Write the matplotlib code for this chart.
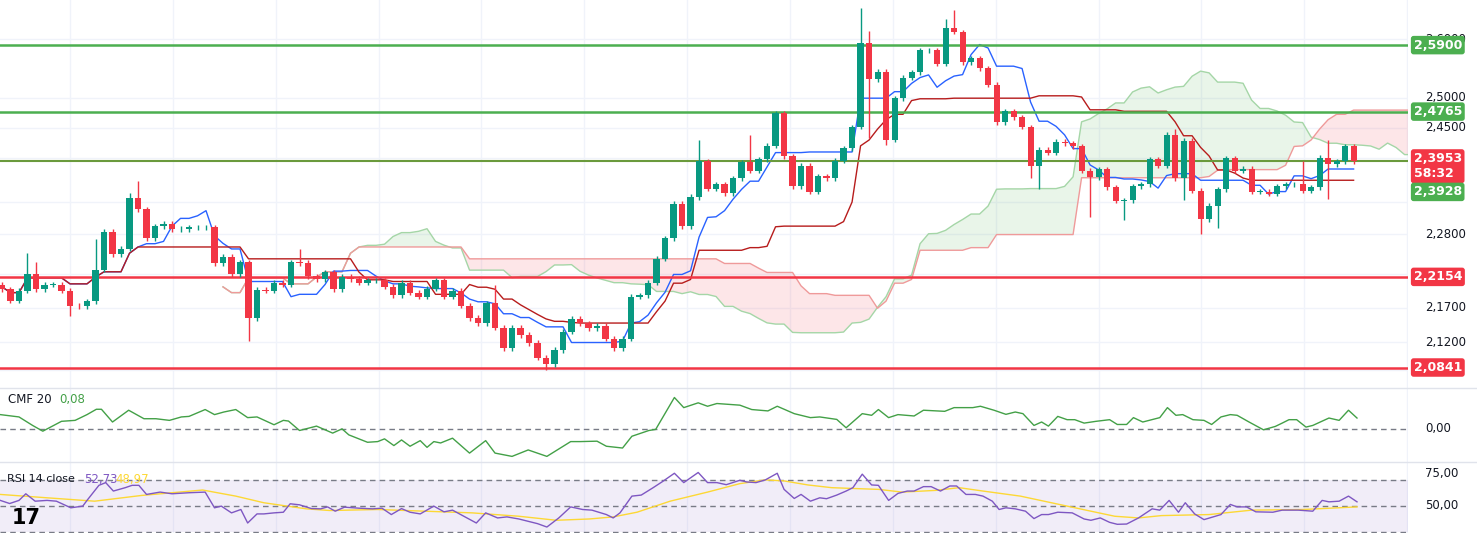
import numpy as np
import pandas as pd
import matplotlib
matplotlib.use("Agg")
import matplotlib.pyplot as plt
from matplotlib.transforms import blended_transform_factory

# --- data (prices, bar index = time) ---
first_open = 2.204
closes = [
    2.197, 2.180, 2.195, 2.219, 2.197, 2.204, 2.204, 2.195, 2.173, 2.172,
    2.179, 2.226, 2.284, 2.250, 2.258, 2.336, 2.319, 2.274, 2.292, 2.296,
    2.288, 2.288, 2.291, 2.291, 2.291, 2.236, 2.246, 2.219, 2.237, 2.155,
    2.196, 2.195, 2.207, 2.204, 2.237, 2.236, 2.216, 2.212, 2.222, 2.197,
    2.215, 2.212, 2.207,
    2.210, 2.210, 2.201, 2.188, 2.207, 2.192, 2.186, 2.198, 2.210, 2.186,
    2.195, 2.173, 2.155, 2.147, 2.176, 2.141, 2.112, 2.141, 2.130, 2.119,
    2.098, 2.089, 2.109, 2.135, 2.154, 2.147, 2.140, 2.143, 2.125, 2.111,
    2.125, 2.186, 2.188, 2.207, 2.243, 2.274, 2.327, 2.292, 2.338, 2.395,
    2.351, 2.358,
    2.344, 2.368, 2.393, 2.380, 2.398, 2.420, 2.474, 2.403, 2.355, 2.388,
    2.346, 2.371, 2.368, 2.396, 2.416, 2.451, 2.593, 2.531, 2.544, 2.430,
    2.499, 2.534, 2.543, 2.581, 2.581, 2.557, 2.620, 2.613, 2.560, 2.567,
    2.550, 2.522, 2.459, 2.477, 2.467, 2.451, 2.388, 2.414, 2.409, 2.427,
    2.424,
    2.419, 2.380, 2.369, 2.382, 2.353, 2.332, 2.333, 2.355, 2.358, 2.398,
    2.388, 2.438, 2.368, 2.428, 2.348, 2.303, 2.324, 2.350, 2.400, 2.380,
    2.383, 2.346, 2.346, 2.343, 2.355, 2.358, 2.358, 2.348, 2.353, 2.401,
    2.390, 2.395, 2.419, 2.3953,
]
high_marks = {3: 2.252, 4: 2.237, 11: 2.272, 15: 2.344, 16: 2.363, 35: 2.257,
              58: 2.203, 82: 2.430, 88: 2.438, 101: 2.656, 102: 2.614,
              111: 2.636, 112: 2.652, 138: 2.448, 153: 2.395, 156: 2.430}
low_marks = {8: 2.158, 29: 2.122, 64: 2.081, 102: 2.433, 104: 2.421,
             121: 2.368, 122: 2.350, 128: 2.307, 132: 2.302, 139: 2.333,
             141: 2.281, 143: 2.289, 156: 2.335}
wick = 0.004

levels_green = [2.5900, 2.4765]
level_last = 2.3953
levels_red = [2.2154, 2.0841]
price_ticks = [2.60, 2.50, 2.45, 2.28, 2.17, 2.12]

cmf_x = [-0.2, 2.0, 3.6, 4.8, 7.0, 8.6, 10.0, 11.1, 11.7, 13.0, 14.9, 16.7, 18.1, 19.7, 21.1,
         22.0, 23.9, 25.0, 26.1, 27.5, 28.9, 30.0, 32.0, 33.1, 33.7, 35.0, 37.0, 38.9, 40.0,
         40.8, 43.0, 44.2, 45.0, 46.1, 47.0, 48.0, 49.2, 50.0, 50.8, 51.6, 53.0, 55.0, 56.9,
         58.0, 60.0, 61.9, 64.1, 66.9, 68.0, 70.0, 71.1, 73.0, 74.1, 76.1, 76.9, 79.1, 80.2,
         81.9, 83.0, 84.1, 86.8,
         88.2, 90.1, 91.2, 93.2, 95.1, 96.2, 98.2, 99.3, 101.2, 102.3, 103.1, 104.3, 105.4,
         107.3, 108.4, 110.9, 112.0, 114.2, 115.1, 116.7, 118.1, 119.2, 120.1, 121.4, 122.3,
         123.1, 124.2, 125.3, 126.2, 127.3, 128.7, 130.3, 131.2, 132.3, 133.1, 134.2, 136.2,
         137.1, 138.1, 138.9, 140.1, 141.4, 142.3, 143.4, 144.5, 145.3, 146.7, 148.4, 149.8,
         150.6, 151.4, 152.3, 153.4, 154.2, 156.1, 157.3, 158.4, 159.4]
cmf_vals = [0.105, 0.088, 0.026, -0.016, 0.056, 0.063, 0.105, 0.144, 0.144, 0.051,
            0.137, 0.075, 0.075, 0.063, 0.088, 0.092, 0.142, 0.105, 0.124, 0.142,
            0.083, 0.088, 0.031, 0.063, 0.058, -0.011, 0.021, -0.030, 0.001, -0.043,
            -0.097, -0.092, -0.072, -0.121, -0.080, -0.126, -0.085, -0.134, -0.092, -0.102,
            -0.067, -0.176, -0.085, -0.176, -0.200, -0.153, -0.200, -0.092, -0.092, -0.089,
            -0.126, -0.139, -0.053, -0.011, -0.003, 0.230, 0.156, 0.191, 0.166, 0.186,
            0.174,
            0.142, 0.132, 0.166, 0.112, 0.083, 0.088, 0.070, 0.009, 0.112, 0.100,
            0.142, 0.083, 0.105, 0.095, 0.137, 0.129, 0.156, 0.156, 0.166, 0.137,
            0.107, 0.124, 0.112, 0.026, 0.051, 0.021, 0.092, 0.068, 0.068, 0.043,
            0.056, 0.068, 0.033, 0.033, 0.083, 0.051, 0.083, 0.156, 0.100, 0.105,
            0.068, 0.063, 0.033, 0.088, 0.105, 0.100, 0.051, -0.006, 0.019, 0.043,
            0.068, 0.068, 0.014, 0.026, 0.080, 0.063, 0.137, 0.080]

rsi_x = [-0.2, 0.9, 2.0, 2.8, 3.9, 5.3, 6.4, 8.1, 9.5, 10.0, 11.4, 12.2, 13.1, 14.5, 15.3,
         16.1, 17.0, 18.6, 20.0, 22.0, 23.9, 25.0, 25.8, 27.0, 28.1, 28.9, 30.0, 30.8, 32.0,
         33.1, 33.9, 35.0, 36.4, 37.5, 38.3, 39.2, 40.3, 42.0, 43.6, 44.7, 45.8, 47.0, 48.0,
         49.2, 50.8, 52.0, 53.0, 54.7, 55.8, 56.9, 58.3, 59.4, 60.8, 63.0, 64.1, 65.5, 66.9,
         68.3, 69.4, 71.1, 71.9, 72.7, 74.1, 75.2, 76.6, 77.7, 79.1, 80.2, 81.9, 83.0, 84.1,
         85.2, 86.8,
         87.6, 88.7, 89.8, 91.2, 92.0, 93.2, 94.0, 95.1, 96.2, 97.0, 98.2, 99.3, 100.1, 101.2,
         102.3, 103.1, 104.3, 105.4, 106.5, 107.3, 108.4, 109.3, 110.4, 111.5, 112.3, 113.4,
         114.5, 115.4, 116.5, 117.3, 118.1, 119.2, 120.4, 121.4, 122.3, 123.1, 124.2, 125.9,
         127.3, 128.1, 129.2, 130.3, 131.2, 132.3, 133.7, 135.3, 136.2, 137.3, 138.4, 139.2,
         140.3, 141.4, 142.5, 143.4, 144.5, 145.3, 146.4, 147.5, 149.5, 150.6, 152.5, 154.2,
         155.3, 156.1, 157.3, 158.4, 159.4]
rsi_vals = [54.3, 51.9, 54.3, 59.4, 53.7, 54.3, 53.7, 48.6, 49.9, 54.3, 65.9, 68.0, 61.5,
            64.1, 65.9, 65.9, 58.9, 60.7, 59.4, 60.2, 60.7, 48.6, 49.9, 44.7, 47.3, 36.9,
            43.9, 43.9, 44.7, 45.2, 51.7, 50.9, 48.0, 47.8, 49.3, 46.0, 49.1, 48.3, 47.8,
            48.3, 43.4, 48.0, 45.2, 43.9, 49.9, 45.5, 46.8, 40.8, 36.9, 44.7, 40.8, 41.6,
            40.0, 36.4, 33.8, 40.8, 49.3, 47.3, 46.8, 43.4, 40.8, 44.7, 57.6, 58.4, 64.1,
            68.8, 75.2, 68.0, 75.8, 68.0, 68.0, 66.4, 69.8,
            68.5, 68.0, 70.1, 75.2, 62.8, 55.8, 58.9, 53.7, 56.3, 55.6, 58.4, 61.5, 64.1,
            74.5, 66.2, 65.9, 54.3, 59.7, 61.5, 61.5, 64.9, 64.9, 61.5, 65.4, 65.4, 58.9,
            58.9, 57.6, 53.7, 47.3, 48.6, 47.8, 46.0, 40.3, 43.4, 43.4, 45.2, 44.7, 40.0,
            39.0, 40.8, 37.4, 35.9, 36.1, 40.8, 47.8, 46.8, 54.3, 45.2, 52.5, 43.9, 39.5,
            41.6, 43.4, 51.2, 49.3, 49.3, 45.5, 45.2, 46.8, 46.8, 46.0, 54.3, 53.2, 53.7,
            57.6, 53.2]
rsi_ma_x = [-0.2, 5.3, 10.9, 16.4, 23.6, 27.5, 30.8, 35.8, 38.6, 44.2, 49.7, 55.3, 60.8,
            65.2, 69.1, 71.9, 74.7, 78.6, 83.0, 86.8, 89.8, 92.0, 94.8, 97.6, 100.9, 103.1,
            105.9, 109.8, 112.6, 115.4, 119.8, 125.3, 130.9, 133.7, 136.4, 142.0, 147.0,
            153.1, 159.4]
rsi_ma_vals = [58.9, 56.3, 53.7, 58.1, 62.3, 57.6, 52.5, 47.8, 46.5, 47.3, 46.0, 44.7,
               42.1, 39.0, 40.0, 41.6, 45.2, 53.7, 60.7, 67.2, 70.1, 69.3, 66.2, 64.1,
               63.3, 62.8, 60.7, 62.0, 64.1, 61.5, 57.6, 49.9, 42.1, 40.8, 42.6, 43.4,
               46.8, 47.3, 49.3]

UP, DOWN = "#089981", "#f23645"
GREEN_LVL, RED_LVL = "#4caf50", "#f23645"
TXT = "#131722"
GRID = "#f0f3fa"

closes = np.array(closes)
opens = np.concatenate([[first_open], closes[:-1]])
n = len(closes)
idx = np.arange(n)
highs = np.maximum(opens, closes) + wick
lows = np.minimum(opens, closes) - wick
for k, v in high_marks.items():
    highs[k] = max(highs[k], v)
for k, v in low_marks.items():
    lows[k] = min(lows[k], v)

# ichimoku (9, 26, 52, displaced 26)
hs, ls = pd.Series(highs), pd.Series(lows)
tenkan = (hs.rolling(9, min_periods=1).max() + ls.rolling(9, min_periods=1).min()) / 2
kijun = (hs.rolling(26, min_periods=1).max() + ls.rolling(26, min_periods=1).min()) / 2
span_a = (tenkan + kijun) / 2
span_b = (hs.rolling(52, min_periods=1).max() + ls.rolling(52, min_periods=1).min()) / 2
shift = 26
cloud_x = idx + shift

fig = plt.figure(figsize=(14.77, 5.33), dpi=100, facecolor="white")
W = 1408 / 1477
ax = fig.add_axes([0, 145 / 533, W, 388 / 533])
ax_cmf = fig.add_axes([0, 71 / 533, W, 73 / 533])
ax_rsi = fig.add_axes([0, 0, W, 70 / 533])

xlim = (-0.235, 165.4)
xgrid = np.arange(8, 166, 12.1)
for a in (ax, ax_cmf, ax_rsi):
    a.set_xlim(*xlim)
    for s in a.spines.values():
        s.set_visible(False)
    a.set_xticks([])
    a.set_yticks([])
    for gx in xgrid:
        a.axvline(gx, color=GRID, lw=1, zorder=0)

# --- main panel ---
ax.set_yscale("log")
ax.set_ylim(2.0555, 2.670)
ax.set_yticks([])
ax.minorticks_off()
for t in price_ticks + [2.40, 2.33, 2.22, 2.08]:
    ax.axhline(t, color=GRID, lw=1, zorder=0)

ax.fill_between(cloud_x, span_a, span_b, where=span_a >= span_b, color="#4caf50", alpha=0.12, lw=0, interpolate=True)
ax.fill_between(cloud_x, span_a, span_b, where=span_a < span_b, color="#f23645", alpha=0.12, lw=0, interpolate=True)
ax.plot(cloud_x, span_a, color="#a5d6a7", lw=1)
ax.plot(cloud_x, span_b, color="#ef9a9a", lw=1)
ax.plot(idx, tenkan, color="#2962ff", lw=1)
ax.plot(idx, kijun, color="#b71c1c", lw=1)

colors = np.where(closes >= opens, UP, DOWN)
ax.vlines(idx, lows, highs, colors=colors, lw=1, zorder=3)
bottoms = np.minimum(opens, closes)
heights = np.maximum(np.abs(closes - opens), 0.0008)
ax.bar(idx, heights, bottom=bottoms, width=0.72, color=colors, zorder=4, lw=0)

for lv in levels_green:
    ax.axhline(lv, color=GREEN_LVL, lw=1.8, zorder=2)
ax.axhline(level_last, color="#6a9a3c", lw=1.5, zorder=2)
for lv in levels_red:
    ax.axhline(lv, color=RED_LVL, lw=1.8, zorder=2)

tr = blended_transform_factory(ax.transAxes, ax.transData)
for t in price_ticks:
    ax.text(1.012, t, f"{t:.4f}".replace(".", ","), transform=tr, va="center", ha="left",
            fontsize=8.5, color=TXT, clip_on=False)


def tag(y, text, color, **kw):
    ax.text(1.004, y, text, transform=tr, va="center", ha="left", fontsize=9, color="white",
            fontweight="bold", clip_on=False, zorder=10,
            bbox=dict(boxstyle="round,pad=0.22", fc=color, ec="none"), **kw)


tag(2.5900, "2,5900", GREEN_LVL)
tag(2.4765, "2,4765", GREEN_LVL)
tag(2.2154, "2,2154", RED_LVL)
tag(2.0841, "2,0841", RED_LVL)
tag(2.387, "2,3953\n58:32", RED_LVL, linespacing=1.25)
tag(2.346, "2,3928", GREEN_LVL)

# --- CMF ---
ax_cmf.set_ylim(-0.241, 0.292)
ax_cmf.axhline(0, color="#787b86", lw=1, ls=(0, (4, 3)))
ax_cmf.plot(cmf_x, cmf_vals, color="#43a047", lw=1)
ax_cmf.text(0.006, 0.86, "CMF 20", transform=ax_cmf.transAxes, fontsize=8.5, color=TXT, va="center")
ax_cmf.text(0.042, 0.86, "0,08", transform=ax_cmf.transAxes, fontsize=8.5, color="#43a047", va="center")
ax_cmf.text(1.012, 0, "0,00", transform=blended_transform_factory(ax_cmf.transAxes, ax_cmf.transData),
            fontsize=8.5, color=TXT, va="center", clip_on=False)

# --- RSI ---
ax_rsi.set_ylim(29.2, 83.1)
ax_rsi.axhspan(30, 70, color="#7e57c2", alpha=0.1, lw=0)
for lv in (70, 50, 30):
    ax_rsi.axhline(lv, color="#787b86", lw=1, ls=(0, (4, 3)))
ax_rsi.plot(rsi_ma_x, rsi_ma_vals, color="#fdd835", lw=1)
ax_rsi.plot(rsi_x, rsi_vals, color="#7e57c2", lw=1)
ax_rsi.text(0.005, 0.77, "RSI 14 close", transform=ax_rsi.transAxes, fontsize=8, color=TXT, va="center")
ax_rsi.text(0.060, 0.77, "52,73", transform=ax_rsi.transAxes, fontsize=8.5, color="#7e57c2", va="center")
ax_rsi.text(0.082, 0.77, "48,97", transform=ax_rsi.transAxes, fontsize=8.5, color="#fdd835", va="center")
ax_rsi.text(0.008, 0.22, "17", transform=ax_rsi.transAxes, fontsize=15, fontweight="bold",
            color="black", va="center")
trr = blended_transform_factory(ax_rsi.transAxes, ax_rsi.transData)
ax_rsi.text(1.012, 75, "75,00", transform=trr, fontsize=8.5, color=TXT, va="center", clip_on=False)
ax_rsi.text(1.012, 50, "50,00", transform=trr, fontsize=8.5, color=TXT, va="center", clip_on=False)

# panel separators
for yy in (145 / 533, 71 / 533):
    fig.add_artist(plt.Line2D([0, 1], [yy, yy], color="#e0e3eb", lw=1))

fig.savefig("out.png", dpi=100, facecolor="white")
